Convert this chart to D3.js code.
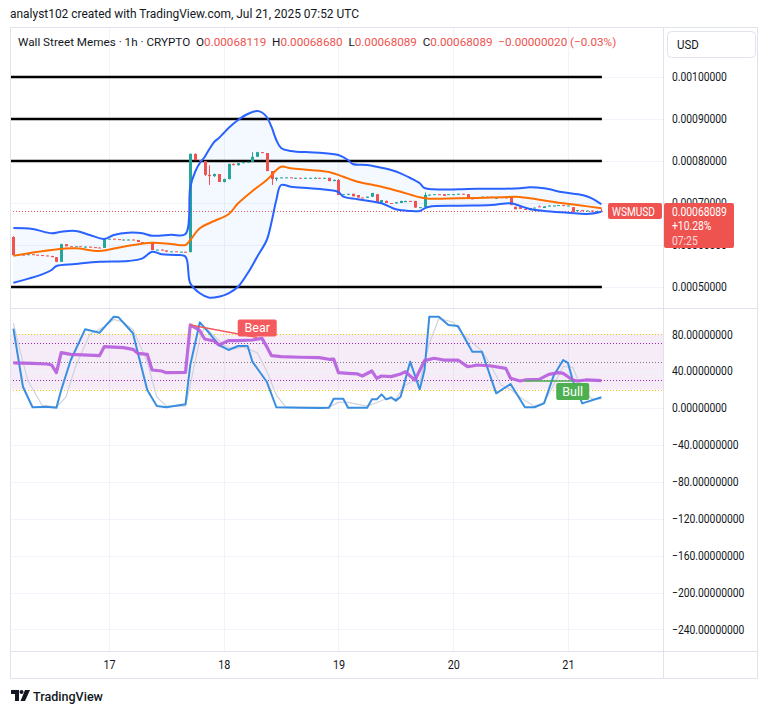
<!DOCTYPE html>
<html>
<head>
<meta charset="utf-8">
<script src="https://cdn.jsdelivr.net/npm/d3@7"></script>
<style>
body{margin:0;background:#fff;}
svg{display:block;font-family:Roboto,"Noto Sans",sans-serif;}
</style>
</head>
<body>
<div id="chart"></div>
<script>

//**************************************************************************
//** Data (WSMUSD, 1h candles from 16 Jul 04:00 UTC)
//**************************************************************************
var startTime = Date.UTC(2025, 6, 16, 4);

var opens = [
 0.000619,0.000576,0.000577,0.000576,0.000578,0.000577,0.000576,0.000575,0.000574,0.000571,
 0.000560,0.000602,0.000597,0.000596,0.000597,0.000596,0.000596,0.000595,0.000594,0.000593,
 0.000614,0.000615,0.000614,0.000613,0.000613,0.000613,0.000612,0.000607,0.000606,0.000606,
 0.000588,0.000589,0.000587,0.000584,0.000585,0.000584,0.000584,0.000583,0.000817,0.000802,
 0.000800,0.000767,0.000764,0.000769,0.000750,0.000757,0.000793,0.000790,0.000795,0.000797,
 0.000798,0.000810,0.000821,0.000819,0.000776,0.000757,0.000760,0.000761,0.000761,0.000760,
 0.000760,0.000759,0.000760,0.000760,0.000760,0.000759,0.000760,0.000752,0.000755,0.000719,
 0.000721,0.000722,0.000719,0.000713,0.000712,0.000715,0.000721,0.000701,0.000705,0.000700,
 0.000699,0.000700,0.000702,0.000705,0.000705,0.000689,0.000690,0.000719,0.000720,0.000721,
 0.000721,0.000719,0.000721,0.000721,0.000722,0.000721,0.000711,0.000710,0.000714,0.000713,
 0.000715,0.000710,0.000714,0.000714,0.000715,0.000691,0.000690,0.000686,0.000683,0.000688,
 0.000692,0.000688,0.000692,0.000694,0.000694,0.000695,0.000694,0.000690,0.000682,0.000683,
 0.000681,0.000682,0.000681,0.00068119
];
var highs = [
 0.000621,0.000577,0.000577,0.000578,0.000578,0.000577,0.000576,0.000575,0.000574,0.000571,
 0.000603,0.000602,0.000597,0.000597,0.000597,0.000597,0.000596,0.000595,0.000594,0.000615,
 0.000615,0.000615,0.000614,0.000614,0.000613,0.000613,0.000612,0.000607,0.000606,0.000606,
 0.000589,0.000589,0.000587,0.000585,0.000585,0.000584,0.000584,0.000818,0.000818,0.000802,
 0.000800,0.000790,0.000770,0.000769,0.000758,0.000794,0.000794,0.000795,0.000797,0.000798,
 0.000821,0.000822,0.000821,0.000819,0.000776,0.000761,0.000761,0.000761,0.000761,0.000760,
 0.000760,0.000760,0.000760,0.000761,0.000760,0.000760,0.000760,0.000756,0.000757,0.000721,
 0.000722,0.000722,0.000719,0.000713,0.000715,0.000724,0.000721,0.000707,0.000706,0.000700,
 0.000702,0.000705,0.000705,0.000705,0.000705,0.000690,0.000725,0.000720,0.000721,0.000721,
 0.000721,0.000721,0.000721,0.000722,0.000722,0.000721,0.000712,0.000714,0.000715,0.000715,
 0.000715,0.000714,0.000714,0.000714,0.000715,0.000691,0.000690,0.000686,0.000688,0.000689,
 0.000694,0.000692,0.000694,0.000694,0.000695,0.000695,0.000694,0.000690,0.000683,0.000683,
 0.000682,0.000682,0.000682,0.00068680
];
var lows = [
 0.000575,0.000575,0.000576,0.000576,0.000577,0.000576,0.000575,0.000574,0.000571,0.000559,
 0.000560,0.000597,0.000596,0.000596,0.000596,0.000595,0.000595,0.000594,0.000593,0.000593,
 0.000614,0.000614,0.000613,0.000613,0.000612,0.000612,0.000607,0.000606,0.000605,0.000588,
 0.000588,0.000587,0.000583,0.000584,0.000584,0.000583,0.000583,0.000583,0.000802,0.000799,
 0.000764,0.000743,0.000762,0.000750,0.000749,0.000756,0.000790,0.000789,0.000795,0.000796,
 0.000797,0.000810,0.000819,0.000776,0.000743,0.000752,0.000760,0.000760,0.000760,0.000759,
 0.000759,0.000759,0.000759,0.000759,0.000759,0.000759,0.000752,0.000752,0.000719,0.000719,
 0.000720,0.000716,0.000713,0.000712,0.000712,0.000714,0.000700,0.000700,0.000700,0.000699,
 0.000699,0.000700,0.000702,0.000703,0.000689,0.000689,0.000690,0.000718,0.000720,0.000720,
 0.000717,0.000719,0.000720,0.000721,0.000721,0.000711,0.000710,0.000710,0.000714,0.000713,
 0.000714,0.000710,0.000713,0.000711,0.000695,0.000685,0.000686,0.000684,0.000683,0.000688,
 0.000691,0.000688,0.000692,0.000693,0.000694,0.000694,0.000693,0.000679,0.000682,0.000681,
 0.000681,0.000681,0.000681,0.00068089
];
var closes = [
 0.000576,0.000577,0.000576,0.000578,0.000577,0.000576,0.000575,0.000574,0.000571,0.000560,
 0.000602,0.000597,0.000596,0.000597,0.000596,0.000596,0.000595,0.000594,0.000593,0.000614,
 0.000615,0.000614,0.000613,0.000613,0.000613,0.000612,0.000607,0.000606,0.000606,0.000588,
 0.000589,0.000587,0.000584,0.000585,0.000584,0.000584,0.000583,0.000817,0.000802,0.000800,
 0.000767,0.000764,0.000769,0.000750,0.000757,0.000793,0.000790,0.000795,0.000797,0.000798,
 0.000810,0.000821,0.000819,0.000776,0.000757,0.000760,0.000761,0.000761,0.000760,0.000760,
 0.000759,0.000760,0.000760,0.000760,0.000759,0.000760,0.000752,0.000755,0.000719,0.000721,
 0.000722,0.000716,0.000713,0.000712,0.000715,0.000724,0.000700,0.000707,0.000700,0.000699,
 0.000702,0.000705,0.000705,0.000703,0.000689,0.000690,0.000719,0.000720,0.000721,0.000720,
 0.000717,0.000721,0.000721,0.000722,0.000721,0.000711,0.000710,0.000714,0.000715,0.000715,
 0.000714,0.000714,0.000713,0.000711,0.000695,0.000685,0.000686,0.000684,0.000688,0.000689,
 0.000691,0.000692,0.000694,0.000694,0.000695,0.000694,0.000694,0.000679,0.000683,0.000681,
 0.000682,0.000681,0.000681,0.00068089
];

//Bollinger bands, [candle index, price]
var bbUpper = [
 [0,0.0006405],[4,0.0006381],[8,0.0006279],[10,0.0006317],[13,0.0006333],[16,0.0006238],
 [19,0.0006143],[21,0.0006238],[24,0.0006293],[27,0.0006279],[29,0.0006221],[33,0.0006245],
 [36,0.0006262],[37,0.0007381],[38,0.0007738],[39,0.0007952],[40,0.0008095],[41,0.0008286],
 [42,0.0008452],[43,0.0008548],[44,0.0008667],[45,0.0008786],[47,0.0008976],[49,0.0009119],
 [51,0.0009190],[52,0.0009155],[53,0.0009048],[54,0.0008810],[55,0.0008500],[56,0.0008310],
 [58,0.0008238],[62,0.0008207],[64,0.0008198],[68,0.0008143],[70,0.0008024],[71,0.0007929],
 [74,0.0007905],[76,0.0007864],[79,0.0007786],[81,0.0007707],[83,0.0007595],[85,0.0007469],
 [86,0.0007357],[88,0.0007326],[93,0.0007326],[97,0.0007340],[102,0.0007340],[106,0.0007350],
 [108,0.0007374],[111,0.0007350],[115,0.0007255],[119,0.0007190],[121,0.0007112],[123,0.0006969]
];
var bbBasis = [
 [0,0.0005745],[8,0.0005881],[13,0.0005921],[18,0.0005857],[23,0.0005960],[29,0.0006055],
 [33,0.0006024],[36,0.0006000],[37,0.0006119],[39,0.0006398],[42,0.0006571],[45,0.0006731],
 [47,0.0006993],[50,0.0007286],[53,0.0007548],[56,0.0007864],[58,0.0007826],[62,0.0007786],
 [66,0.0007738],[69,0.0007626],[72,0.0007507],[77,0.0007388],[81,0.0007269],[85,0.0007136],
 [87,0.0007102],[93,0.0007112],[102,0.0007136],[105,0.0007150],[108,0.0007112],[114,0.0007007],
 [118,0.0006952],[123,0.0006874]
];
var bbLower = [
 [0,0.0005102],[6,0.0005302],[8,0.0005405],[9,0.0005500],[13,0.0005548],[18,0.0005602],
 [24,0.0005619],[27,0.0005683],[29,0.0005840],[31,0.0005779],[34,0.0005762],[36,0.0005721],
 [37,0.0005088],[39,0.0004850],[41,0.0004745],[43,0.0004769],[45,0.0004850],[47,0.0005007],
 [49,0.0005326],[51,0.0005721],[53,0.0006119],[54,0.0006548],[55,0.0007071],[56,0.0007429],
 [58,0.0007388],[62,0.0007350],[66,0.0007310],[68,0.0007262],[69,0.0007150],[72,0.0007088],
 [77,0.0006993],[80,0.0006850],[83,0.0006810],[85,0.0006810],[86,0.0006874],[87,0.0006912],
 [93,0.0006936],[100,0.0006952],[104,0.0006993],[106,0.0006929],[108,0.0006857],[111,0.0006810],
 [116,0.0006769],[120,0.0006738],[123,0.0006793]
];

//Oscillator pane, [candle index, value]
var rsiLine = [
 [0,49],[4,48.4],[7,47.7],[8,46.6],[9,38.3],[10,60],[12,58.2],[18,56.7],[19,66.5],[23,65.4],
 [25,63.6],[26,59.3],[28,58.2],[29,41.2],[31,40.1],[32,38.3],[36,38.7],[37,90],[39,83.8],
 [40,74.8],[42,72.6],[43,68.3],[45,73],[47,73],[50,73.7],[52,75.5],[53,66.5],[54,56.7],
 [56,55.6],[60,55],[64,54.6],[66,52.8],[67,53],[68,38.3],[70,37.6],[72,36.9],[73,34.7],
 [75,40.1],[76,32.2],[77,34.7],[79,34],[81,36.9],[82,39.4],[83,34.7],[84,30.4],[86,51.3],
 [88,53.9],[90,52],[93,52],[95,44.8],[96,45.5],[97,46.6],[100,45.5],[103,43],[104,32.2],
 [106,29.3],[107,30.4],[110,31.1],[112,36.5],[114,38.3],[115,37.6],[117,30.4],[118,29.3],
 [120,30.4],[123,29.6]
];
var stochK = [
 [0,86],[2,23],[4,0.8],[7,1.4],[9,0.3],[10,19.5],[12,52],[15,85.3],[18,81.6],[21,99],[22,98.3],
 [25,81],[28,19.5],[30,2.2],[32,0.8],[36,4],[37,46.6],[39,92.9],[41,81],[43,68.3],[45,62.9],
 [47,67.2],[49,67.2],[50,50.2],[53,28.5],[55,0.8],[60,0.3],[64,0],[66,0.3],[67,10],[69,10],
 [70,0.3],[74,0.3],[75,9.4],[76,9.4],[77,14.8],[78,9.4],[79,11.6],[80,8],[81,12.3],[83,50.2],
 [85,20.2],[86,41.2],[87,99],[89,99],[91,90],[93,88.9],[96,61],[98,61],[101,15.9],[104,26],
 [107,0.8],[109,0.8],[111,5],[113,35],[115,52],[116,49],[117,30],[119,5],[123,11.6]
];
var stochD = [
 [0,92],[1,70],[3,30],[6,3],[9,1],[11,12],[13,45],[16,80],[19,88],[21,96],[23,93],[25,85],
 [28,50],[30,12],[32,2],[36,2],[37,25],[39,75],[40,88],[42,78],[44,68],[46,64],[48,66],[51,60],
 [53,40],[55,14],[57,1],[66,1],[68,6],[70,6],[74,2],[76,6],[78,10],[80,10],[82,25],[84,30],
 [85,28],[87,70],[89,97],[92,93],[94,80],[98,62],[100,45],[102,25],[104,20],[107,8],[109,2],
 [111,6],[113,25],[115,45],[117,44],[119,20],[121,10],[123,10]
];
var bearLine = [[37,90],[51,76.5]];
var bullLine = [[107,29.3],[117,29.3]];

var dayTicks = [Date.UTC(2025,6,17), Date.UTC(2025,6,18), Date.UTC(2025,6,19), Date.UTC(2025,6,20), Date.UTC(2025,6,21)];
var priceTicks = [0.0005, 0.0006, 0.0007, 0.0008, 0.0009, 0.0010];
var levelLines = [0.0005, 0.0008, 0.0009, 0.0010];
var oscTicks = [80, 40, 0, -40, -80, -120, -160, -200, -240];
var lastPrice = 0.00068089;


//**************************************************************************
//** Layout
//**************************************************************************
var width = 767, height = 714;
var frame = {left: 10, right: 757, top: 27, bottom: 678};
var plotRight = 663;
var priceBottom = 308, oscBottom = 651;
var red = "#ef5350", green = "#26a69a", textColor = "#131722", gridColor = "#f0f3fa", borderColor = "#e0e3eb";

var hour = 3600000;
var timeOf = function(i){ return startTime + i*hour; };

var x = d3.scaleUtc()
    .domain([timeOf(0), timeOf(123)])
    .range([13.4, 601.4]);
var yPrice = d3.scaleLinear().domain([0.0005, 0.001]).range([287, 77]);
var yOsc = d3.scaleLinear().domain([0, 80]).range([408, 334.2]);

var svg = d3.select("#chart").append("svg")
    .attr("width", width)
    .attr("height", height);

//Squeeze text horizontally (the original font is narrower than Roboto)
var condense = function(sel, ratio){
    sel.each(function(){
        var w = this.getComputedTextLength();
        d3.select(this).attr("textLength", w*ratio).attr("lengthAdjust", "spacingAndGlyphs");
    });
};

var defs = svg.append("defs");
defs.append("clipPath").attr("id", "clipPrice").append("rect")
    .attr("x", frame.left).attr("y", frame.top)
    .attr("width", plotRight-frame.left).attr("height", priceBottom-frame.top);
defs.append("clipPath").attr("id", "clipOsc").append("rect")
    .attr("x", frame.left).attr("y", priceBottom)
    .attr("width", plotRight-frame.left).attr("height", oscBottom-priceBottom);


//**************************************************************************
//** Gridlines
//**************************************************************************
var grid = svg.append("g");
grid.selectAll(".vgrid").data(dayTicks).enter().append("line")
    .attr("x1", function(d){ return Math.round(x(d))+0.5; })
    .attr("x2", function(d){ return Math.round(x(d))+0.5; })
    .attr("y1", frame.top).attr("y2", oscBottom)
    .attr("stroke", gridColor);
grid.selectAll(".pgrid").data(priceTicks).enter().append("line")
    .attr("x1", frame.left).attr("x2", plotRight)
    .attr("y1", function(d){ return Math.round(yPrice(d))+0.5; })
    .attr("y2", function(d){ return Math.round(yPrice(d))+0.5; })
    .attr("stroke", gridColor);


//**************************************************************************
//** Price pane
//**************************************************************************
var pricePane = svg.append("g").attr("clip-path", "url(#clipPrice)");

var bandLine = function(points){
    return d3.line()
        .x(function(d){ return x(timeOf(d[0])); })
        .y(function(d){ return yPrice(d[1]); })
        .curve(d3.curveCatmullRom.alpha(0.5))(points);
};

//Band fill
var fillPath = bandLine(bbUpper) + "L" + bandLine(bbLower.slice().reverse()).substring(1) + "Z";
pricePane.append("path")
    .attr("d", fillPath)
    .attr("fill", "#2196f3")
    .attr("fill-opacity", 0.055);

//Horizontal levels
pricePane.selectAll(".level").data(levelLines).enter().append("line")
    .attr("x1", frame.left).attr("x2", x(timeOf(123))+0.5)
    .attr("y1", function(d){ return yPrice(d); })
    .attr("y2", function(d){ return yPrice(d); })
    .attr("stroke", "#000")
    .attr("stroke-width", 2.5);

//Current price line
pricePane.append("line")
    .attr("x1", frame.left).attr("x2", x(timeOf(123))+1)
    .attr("y1", Math.round(yPrice(lastPrice))+0.5)
    .attr("y2", Math.round(yPrice(lastPrice))+0.5)
    .attr("stroke", red)
    .attr("stroke-dasharray", "1,2");

//Candles
var candles = pricePane.append("g");
d3.range(closes.length).forEach(function(i){
    var cx = Math.round(x(timeOf(i)));
    var color = closes[i] >= opens[i] ? green : red;
    var top = yPrice(Math.max(opens[i], closes[i]));
    var bottom = yPrice(Math.min(opens[i], closes[i]));
    candles.append("line")
        .attr("x1", cx+0.5).attr("x2", cx+0.5)
        .attr("y1", yPrice(highs[i])).attr("y2", yPrice(lows[i]))
        .attr("stroke", color);
    candles.append("rect")
        .attr("x", cx-1).attr("width", 3)
        .attr("y", top).attr("height", Math.max(1, bottom-top))
        .attr("fill", color);
});

//Band lines
pricePane.append("path").attr("d", bandLine(bbBasis))
    .attr("fill", "none").attr("stroke", "#ff6d00").attr("stroke-width", 2);
pricePane.append("path").attr("d", bandLine(bbUpper))
    .attr("fill", "none").attr("stroke", "#2962ff").attr("stroke-width", 2);
pricePane.append("path").attr("d", bandLine(bbLower))
    .attr("fill", "none").attr("stroke", "#2962ff").attr("stroke-width", 2);


//**************************************************************************
//** Oscillator pane
//**************************************************************************
var oscPane = svg.append("g").attr("clip-path", "url(#clipOsc)");

oscPane.append("rect")
    .attr("x", frame.left).attr("width", plotRight-frame.left)
    .attr("y", yOsc(80)).attr("height", yOsc(20)-yOsc(80))
    .attr("fill", "#9c27b0").attr("fill-opacity", 0.09);

oscPane.selectAll(".ogrid").data(oscTicks).enter().append("line")
    .attr("x1", frame.left).attr("x2", plotRight)
    .attr("y1", function(d){ return Math.round(yOsc(d))+0.5; })
    .attr("y2", function(d){ return Math.round(yOsc(d))+0.5; })
    .attr("stroke", gridColor);

var bands = [
    {v: 80, c: "#f5c400"}, {v: 70, c: "#9c27b0"}, {v: 50, c: "#787b86"},
    {v: 30, c: "#9c27b0"}, {v: 20, c: "#f5c400"}
];
oscPane.selectAll(".band").data(bands).enter().append("line")
    .attr("x1", frame.left).attr("x2", plotRight)
    .attr("y1", function(d){ return Math.round(yOsc(d.v))+0.5; })
    .attr("y2", function(d){ return Math.round(yOsc(d.v))+0.5; })
    .attr("stroke", function(d){ return d.c; })
    .attr("stroke-dasharray", "1,2");

var oscLine = d3.line()
    .x(function(d){ return x(timeOf(d[0])); })
    .y(function(d){ return yOsc(d[1]); });

oscPane.append("path").attr("d", oscLine(stochD))
    .attr("fill", "none").attr("stroke", "#cfd2dc").attr("stroke-width", 1.2);
oscPane.append("path").attr("d", oscLine(stochK))
    .attr("fill", "none").attr("stroke", "#3a8ee0").attr("stroke-width", 2)
    .attr("stroke-linejoin", "round");
oscPane.append("path").attr("d", oscLine(rsiLine))
    .attr("fill", "none").attr("stroke", "#b55ddc").attr("stroke-width", 3.2)
    .attr("stroke-linejoin", "round").attr("stroke-opacity", 0.9);

//Divergence labels
oscPane.append("path").attr("d", oscLine(bearLine))
    .attr("fill", "none").attr("stroke", "#f55a5a").attr("stroke-width", 1.5);
oscPane.append("path").attr("d", oscLine(bullLine))
    .attr("fill", "none").attr("stroke", "#4caf50").attr("stroke-width", 1.5);

var tag = function(cx, y, text, color){
    var w = text === "Bear" ? 39 : 33, h = 17;
    oscPane.append("rect")
        .attr("x", cx-w/2).attr("y", y).attr("width", w).attr("height", h)
        .attr("rx", 2).attr("fill", color);
    oscPane.append("text")
        .attr("x", cx).attr("y", y+h/2+4.5)
        .attr("text-anchor", "middle")
        .attr("fill", "#fff").attr("font-size", "12.5px")
        .text(text);
};
var bearEnd = bearLine[1], bullEnd = bullLine[1];
tag(x(timeOf(bearEnd[0])), yOsc(bearEnd[1])-18, "Bear", "#f45a5e");
tag(x(timeOf(bullEnd[0])), yOsc(bullEnd[1])+2, "Bull", "#4caf50");


//**************************************************************************
//** Frame and axes
//**************************************************************************
var border = svg.append("g").attr("stroke", borderColor).attr("fill", "none");
border.append("rect")
    .attr("x", frame.left+0.5).attr("y", frame.top+0.5)
    .attr("width", frame.right-frame.left).attr("height", frame.bottom-frame.top);
border.append("line").attr("x1", frame.left).attr("x2", frame.right)
    .attr("y1", priceBottom+0.5).attr("y2", priceBottom+0.5);
border.append("line").attr("x1", frame.left).attr("x2", frame.right)
    .attr("y1", oscBottom+0.5).attr("y2", oscBottom+0.5);
border.append("line").attr("x1", plotRight+0.5).attr("x2", plotRight+0.5)
    .attr("y1", frame.top).attr("y2", frame.bottom);

var styleAxis = function(g){
    g.select(".domain").remove();
    g.selectAll("text").attr("fill", textColor).style("font-size", "12px")
        .style("font-family", "Roboto,'Noto Sans',sans-serif");
};

svg.append("g")
    .attr("transform", "translate(" + plotRight + ",0)")
    .call(d3.axisRight(yPrice).tickValues(priceTicks).tickFormat(d3.format(".8f")).tickSize(0).tickPadding(9))
    .call(styleAxis)
    .call(function(g){ condense(g.selectAll("text"), 0.86); });

svg.append("g")
    .attr("transform", "translate(" + plotRight + ",0)")
    .call(d3.axisRight(yOsc).tickValues(oscTicks).tickFormat(d3.format(".8f")).tickSize(0).tickPadding(9))
    .call(styleAxis)
    .call(function(g){ condense(g.selectAll("text"), 0.86); });

svg.append("g")
    .attr("transform", "translate(0," + oscBottom + ")")
    .call(d3.axisBottom(x).tickValues(dayTicks).tickFormat(d3.utcFormat("%-d")).tickSize(0).tickPadding(9))
    .call(styleAxis)
    .call(function(g){ condense(g.selectAll("text"), 0.9); });


//**************************************************************************
//** Price labels
//**************************************************************************
var py = Math.round(yPrice(lastPrice));
svg.append("rect").attr("x", 608).attr("y", py-8).attr("width", 54).attr("height", 16)
    .attr("rx", 2).attr("fill", red);
svg.append("text").attr("x", 612).attr("y", py+4.5)
    .attr("fill", "#fff").attr("font-size", "12px").text("WSMUSD")
    .call(condense, 0.84);

svg.append("rect").attr("x", 664).attr("y", py-8).attr("width", 70).attr("height", 45)
    .attr("rx", 2).attr("fill", red);
svg.append("text").attr("x", 672).attr("y", py+4.5)
    .attr("fill", "#fff").attr("font-size", "12px").text(d3.format(".8f")(lastPrice))
    .call(condense, 0.86);
svg.append("text").attr("x", 672).attr("y", py+19)
    .attr("fill", "#fff").attr("font-size", "12px").text("+10.28%")
    .call(condense, 0.86);
svg.append("text").attr("x", 672).attr("y", py+33.5)
    .attr("fill", "#fff").attr("fill-opacity", 0.8).attr("font-size", "12px").text("07:25")
    .call(condense, 0.86);


//**************************************************************************
//** Header
//**************************************************************************
svg.append("text").attr("x", 10).attr("y", 18)
    .attr("fill", textColor).attr("font-size", "12.5px")
    .text("analyst102 created with TradingView.com, Jul 21, 2025 07:52 UTC")
    .call(condense, 0.955);

var legend = svg.append("text").attr("x", 18).attr("y", 46)
    .attr("font-size", "11.7px").attr("fill", textColor)
    .attr("xml:space", "preserve");
var legendParts = [
    ["Wall Street Memes \u00b7 1h \u00b7 CRYPTO  O", textColor], ["0.00068119", red],
    ["  H", textColor], ["0.00068680", red],
    ["  L", textColor], ["0.00068089", red],
    ["  C", textColor], ["0.00068089", red],
    ["  \u22120.00000020 (\u22120.03%)", red]
];
legendParts.forEach(function(p){
    legend.append("tspan").attr("fill", p[1]).text(p[0]);
});

svg.append("rect").attr("x", 667.5).attr("y", 31.5).attr("width", 88).attr("height", 26)
    .attr("rx", 4).attr("fill", "#fff").attr("stroke", borderColor);
svg.append("text").attr("x", 677).attr("y", 49)
    .attr("fill", textColor).attr("font-size", "12.5px").text("USD")
    .call(condense, 0.92);


//**************************************************************************
//** Logo
//**************************************************************************
var logo = svg.append("g").attr("fill", textColor);
logo.append("path").attr("d", "M11,690 h8 v11 h-4 v-7 h-4 z");
logo.append("circle").attr("cx", 21.5).attr("cy", 692).attr("r", 2);
logo.append("path").attr("d", "M25,690 h5 l-5,11 h-4.5 z");
svg.append("text").attr("x", 33).attr("y", 701)
    .attr("fill", textColor).attr("font-size", "13.5px").attr("font-weight", 500)
    .text("TradingView")
    .call(condense, 0.93);

</script>
</body>
</html>
